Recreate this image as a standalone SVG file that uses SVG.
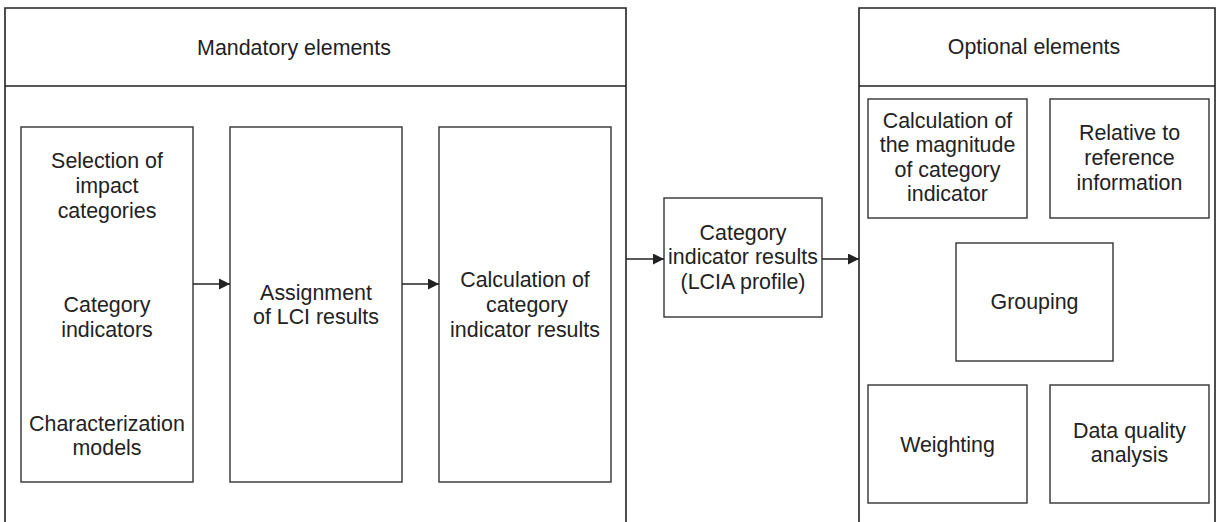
<svg xmlns="http://www.w3.org/2000/svg" width="1221" height="522" viewBox="0 0 1221 522">
<style>
.bx{fill:#fff;stroke:#333;stroke-width:1.4}
.outer{fill:none;stroke:#222;stroke-width:1.6}
.t{font-family:"Liberation Sans",Arial,sans-serif;font-size:21.4px;fill:#222;text-anchor:middle}
.c{stroke:#222;stroke-width:1.4;fill:none;marker-end:url(#ah)}
</style>
<defs>
<marker id="ah" markerWidth="12" markerHeight="12" refX="11" refY="5.5" orient="auto" markerUnits="userSpaceOnUse">
<path d="M0,0 L11,5.5 L0,11 Z" fill="#222"/>
</marker>
</defs>
<rect width="1221" height="522" fill="#fff"/>
<g id="mandatory">
<path class="outer" d="M5,522 V8 H626 V522 M5,86 H626"/>
<text class="t" x="294" y="55">Mandatory elements</text>
</g>
<g id="optional">
<path class="outer" d="M859,522 V8 H1215 V522 M859,86 H1215"/>
<text class="t" x="1034" y="54">Optional elements</text>
</g>
<g id="selection">
<rect class="bx" x="21" y="127" width="172" height="355"/>
<text class="t" x="107" y="168">Selection of</text>
<text class="t" x="107" y="193">impact</text>
<text class="t" x="107" y="218">categories</text>
<text class="t" x="107" y="312">Category</text>
<text class="t" x="107" y="337">indicators</text>
<text class="t" x="107" y="431">Characterization</text>
<text class="t" x="107" y="455">models</text>
</g>
<g id="assignment">
<rect class="bx" x="230" y="127" width="172" height="355"/>
<text class="t" x="316" y="300">Assignment</text>
<text class="t" x="316" y="324">of LCI results</text>
</g>
<g id="calculation">
<rect class="bx" x="439" y="127" width="172" height="355"/>
<text class="t" x="525" y="287">Calculation of</text>
<text class="t" x="527" y="312">category</text>
<text class="t" x="525" y="337">indicator results</text>
</g>
<g id="lcia">
<rect class="bx" x="664" y="198" width="158" height="119"/>
<text class="t" x="743" y="240">Category</text>
<text class="t" x="743" y="264">indicator results</text>
<text class="t" x="743" y="289">(LCIA profile)</text>
</g>
<g id="magnitude">
<rect class="bx" x="868" y="99" width="159" height="119"/>
<text class="t" x="947.5" y="128">Calculation of</text>
<text class="t" x="947.5" y="152">the magnitude</text>
<text class="t" x="947.5" y="177">of category</text>
<text class="t" x="947.5" y="201">indicator</text>
</g>
<g id="relative">
<rect class="bx" x="1050" y="99" width="159" height="119"/>
<text class="t" x="1129.5" y="140">Relative to</text>
<text class="t" x="1129.5" y="165">reference</text>
<text class="t" x="1129.5" y="190">information</text>
</g>
<g id="grouping">
<rect class="bx" x="956" y="243" width="157" height="118"/>
<text class="t" x="1034.5" y="309">Grouping</text>
</g>
<g id="weighting">
<rect class="bx" x="868" y="385" width="159" height="118"/>
<text class="t" x="947.5" y="452">Weighting</text>
</g>
<g id="dataquality">
<rect class="bx" x="1050" y="385" width="159" height="118"/>
<text class="t" x="1129.5" y="438">Data quality</text>
<text class="t" x="1129.5" y="462">analysis</text>
</g>
<g id="connectors">
<line class="c" x1="193" y1="284" x2="230" y2="284"/>
<line class="c" x1="402" y1="284" x2="439" y2="284"/>
<line class="c" x1="626" y1="259" x2="664" y2="259"/>
<line class="c" x1="822" y1="259" x2="859" y2="259"/>
</g>
</svg>
